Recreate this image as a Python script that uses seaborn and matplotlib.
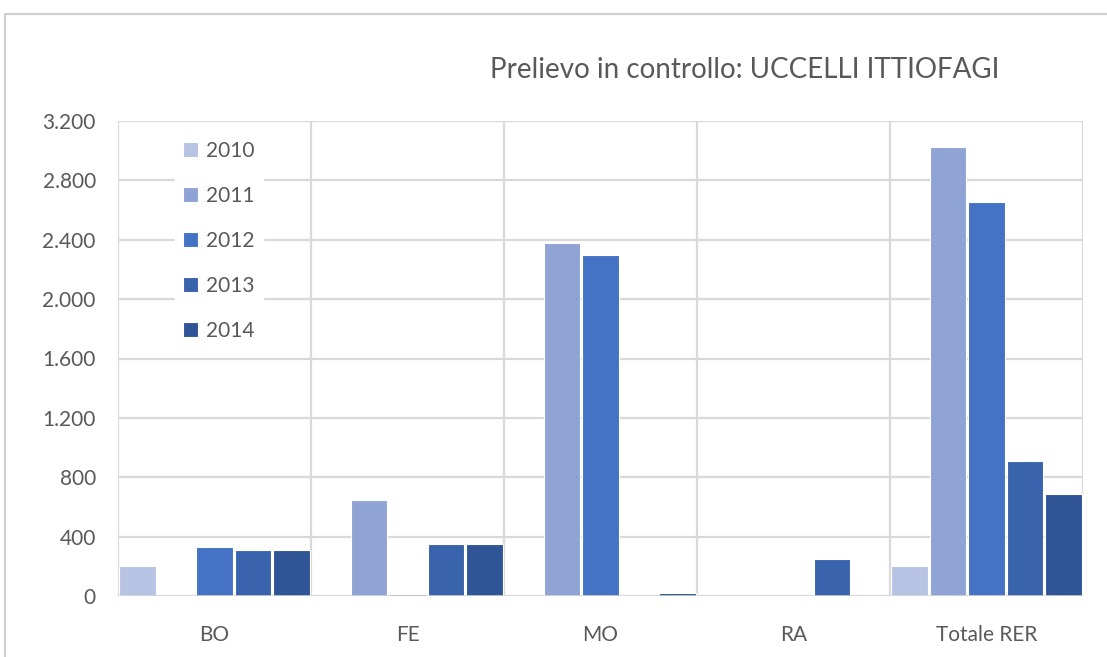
import matplotlib
matplotlib.use("Agg")
from matplotlib import pyplot as plt
from matplotlib.patches import Rectangle
from matplotlib.ticker import FuncFormatter, MultipleLocator
import pandas as pd
import seaborn as sns

province = ["BO", "FE", "MO", "RA", "Totale RER"]
anni = ["2010", "2011", "2012", "2013", "2014"]
v2010 = [200, 0, 0, 0, 200]
v2011 = [0, 645, 2375, 0, 3025]
v2012 = [332, 12, 2300, 0, 2652]
v2013 = [308, 350, 0, 247, 907]
v2014 = [308, 350, 18, 0, 690]
colori = ["#B7C3E3", "#8FA4D5", "#4472C4", "#3A63AD", "#2F5597"]

valori = [v2010, v2011, v2012, v2013, v2014]
righe = []
for anno, serie in zip(anni, valori):
    for prov, val in zip(province, serie):
        righe.append({"Provincia": prov, "Anno": anno, "Valore": val})
df = pd.DataFrame(righe)

sns.set_style("white")
plt.rcParams["font.family"] = ["Lato", "DejaVu Sans"]
grigio = "#595959"
griglia = "#D9D9D9"

fig = plt.figure(figsize=(11.07, 6.57), dpi=100)
ax = fig.add_axes([118 / 1107, 1 - 596 / 657, (1083 - 118) / 1107, (596 - 121) / 657])

sns.barplot(data=df, x="Provincia", y="Valore", hue="Anno", palette=colori,
            saturation=1, width=0.995, gap=0.05, edgecolor="white",
            linewidth=0.8, ax=ax)

ax.set_xlim(-0.5, 4.5)
ax.set_ylim(0, 3200)
ax.yaxis.set_major_locator(MultipleLocator(400))
ax.yaxis.set_major_formatter(FuncFormatter(lambda v, p: f"{v:,.0f}".replace(",", ".")))
ax.grid(axis="y", color=griglia, linewidth=1.6)
ax.set_axisbelow(True)
for xb in [-0.5, 0.5, 1.5, 2.5, 3.5, 4.5]:
    ax.axvline(xb, color=griglia, linewidth=1.6, zorder=0)
for s in ax.spines.values():
    s.set_visible(False)
ax.axhline(0, color=griglia, linewidth=1.8, zorder=3)

ax.set_xlabel("")
ax.set_ylabel("")
ax.tick_params(axis="x", length=0, pad=21, labelsize=15, labelcolor=grigio)
ax.tick_params(axis="y", length=0, pad=16, labelsize=15, labelcolor=grigio)

handles, labels = ax.get_legend_handles_labels()
leg = ax.legend(handles, labels, loc="upper left", bbox_to_anchor=(0.048, 0.998),
                frameon=True, facecolor="white", edgecolor="white", framealpha=1,
                fancybox=False, fontsize=15, labelspacing=1.2, handlelength=0.7,
                handleheight=0.7, handletextpad=0.4, borderpad=0.4)
for t in leg.get_texts():
    t.set_color(grigio)

fig.text(745 / 1107, 1 - 70 / 657, "Prelievo in controllo: UCCELLI ITTIOFAGI",
         ha="center", va="center", fontsize=20, color=grigio)

fig.patches.append(Rectangle((5 / 1107, -0.1), 1.2, 1 - 14 / 657 + 0.1,
                             transform=fig.transFigure, fill=False,
                             edgecolor="#D0D0D0", linewidth=1.5))

fig.savefig("out.png", dpi=100)
